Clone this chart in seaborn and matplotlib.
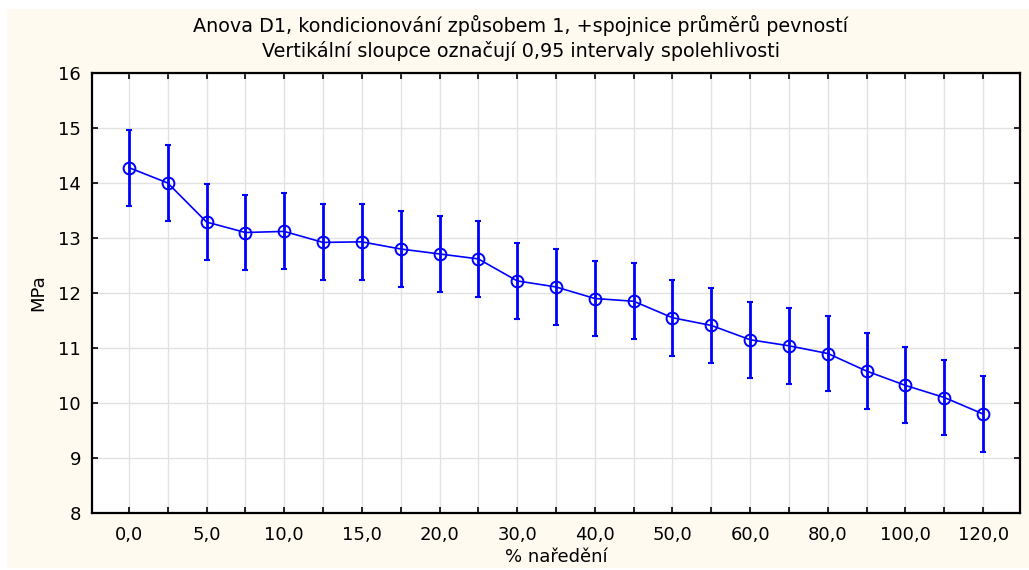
import numpy as np
import matplotlib
matplotlib.use("Agg")
import matplotlib.pyplot as plt
from matplotlib.patches import Rectangle
import seaborn as sns

# Mean strength per dilution level (MPa) and 0.95 CI half-widths
mean_mpa = [14.28, 14.00, 13.29, 13.10, 13.12, 12.92, 12.93, 12.80, 12.71, 12.62,
            12.22, 12.11, 11.90, 11.85, 11.55, 11.41, 11.15, 11.04, 10.90, 10.58,
            10.32, 10.10, 9.80]
ci_half = [0.69, 0.69, 0.69, 0.69, 0.69, 0.69, 0.69, 0.69, 0.69, 0.69,
           0.69, 0.69, 0.69, 0.69, 0.69, 0.69, 0.69, 0.69, 0.69, 0.69,
           0.69, 0.69, 0.69]
# Labels shown under every second level
tick_labels = ["0,0", "5,0", "10,0", "15,0", "20,0", "30,0", "40,0",
               "50,0", "60,0", "80,0", "100,0", "120,0"]
y_ticks = [8, 9, 10, 11, 12, 13, 14, 15, 16]

title = ("Anova D1, kondicionování způsobem 1, +spojnice průměrů pevností\n"
         "Vertikální sloupce označují 0,95 intervaly spolehlivosti")
x_title = "% naředění"
y_title = "MPa"

sns.set_theme(style="white")
plt.rcParams["font.family"] = ["DejaVu Sans"]
plt.rcParams["text.color"] = "black"
plt.rcParams["axes.labelcolor"] = "black"

blue = "#0000FF"
fig = plt.figure(figsize=(10.29, 5.70), dpi=100)
fig.patch.set_facecolor("white")
bg = Rectangle((7 / 1029, 0.004), 1.0, 1 - 9 / 570 - 0.004,
               transform=fig.transFigure, facecolor="#FEFAEF",
               edgecolor="none", zorder=-10)
fig.patches.append(bg)

ax = fig.add_axes([92 / 1029, 1 - 513 / 570, (1020 - 92) / 1029, (513 - 73) / 570])
ax.set_facecolor("white")
ax.set_zorder(1)

n = len(mean_mpa)
idx = [str(i) for i in range(n)]

sns.pointplot(x=idx, y=mean_mpa, order=idx, errorbar=None, color=blue, ax=ax,
              marker="o", markersize=8.5, markerfacecolor="none",
              markeredgecolor=blue, markeredgewidth=1.4, linewidth=1.2,
              zorder=4)
ax.errorbar(np.arange(n), mean_mpa, yerr=ci_half, fmt="none", ecolor=blue,
            elinewidth=2.0, capsize=2, capthick=1.5, zorder=3)

ax.set_xlim(-0.95, n - 1 + 0.95)
ax.set_ylim(8, 16)
ax.set_yticks(y_ticks)
ax.set_yticklabels([str(v) for v in y_ticks], fontsize=13)
ax.set_xticks(np.arange(n))
labels = [""] * n
for k, lab in enumerate(tick_labels):
    labels[2 * k] = lab
ax.set_xticklabels(labels, fontsize=13)

ax.grid(True, color="#E2E2E2", linewidth=1.0)
ax.set_axisbelow(True)
ax.tick_params(axis="both", which="major", direction="in", length=4, width=1.2,
               colors="black", top=True, right=True, left=True, bottom=True,
               labelcolor="black", pad=8)
ax.tick_params(axis="x", pad=9)
for sp in ax.spines.values():
    sp.set_visible(True)
    sp.set_color("black")
    sp.set_linewidth(1.6)

ax.set_xlabel(x_title, fontsize=13, labelpad=3)
ax.set_ylabel(y_title, fontsize=13, labelpad=8)

fig.text(0.506, 1 - 38 / 570, title, ha="center", va="center", fontsize=13.8,
         linespacing=1.3)

fig.savefig("out.png", dpi=100)
